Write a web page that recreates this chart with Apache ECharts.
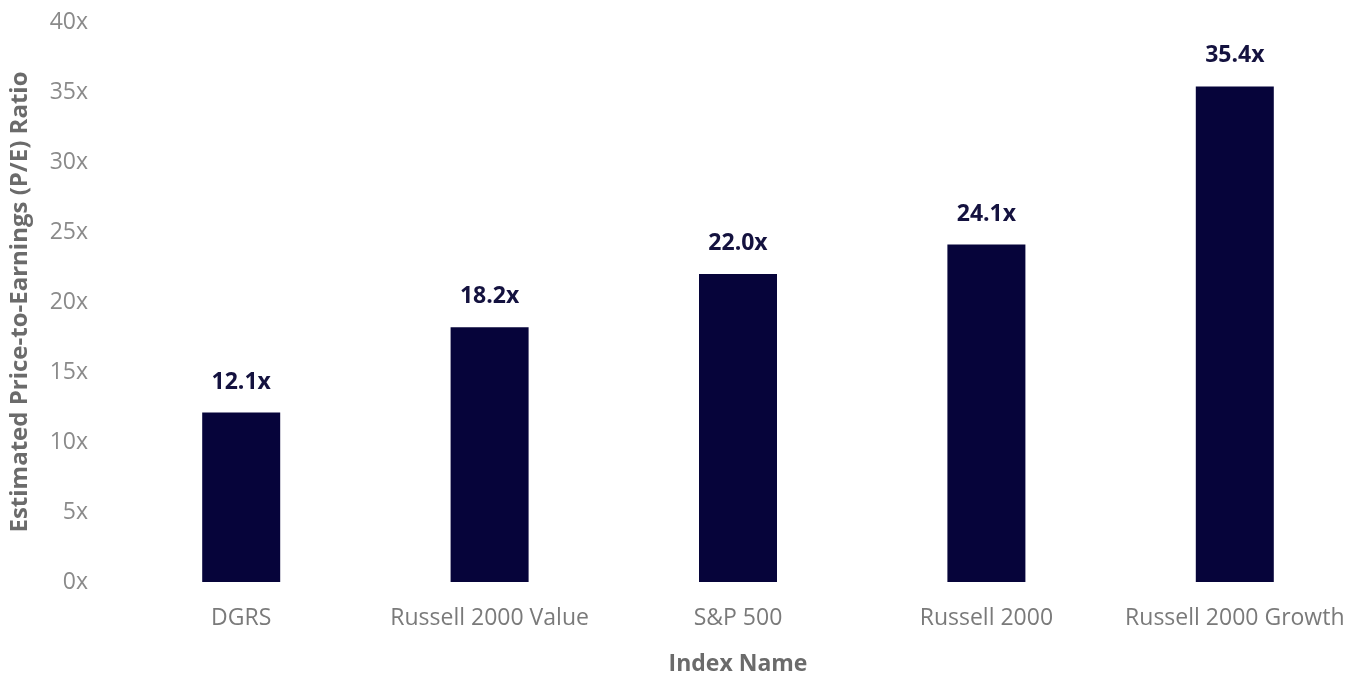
<!DOCTYPE html>
<html>
<head>
<meta charset="utf-8">
<script src="https://cdn.jsdelivr.net/npm/echarts@6/dist/echarts.min.js"></script>
<style>html,body{margin:0;padding:0;background:#fff}#c{width:1367px;height:677px}</style>
</head>
<body>
<div id="c"></div>
<script>
const categories = ['DGRS', 'Russell 2000 Value', 'S&P 500', 'Russell 2000', 'Russell 2000 Growth'];
const peValues = [12.1, 18.2, 22.0, 24.1, 35.4];
const yTicks = [0, 5, 10, 15, 20, 25, 30, 35, 40];

const chart = echarts.init(document.getElementById('c'));
const font = 'Open Sans';
chart.setOption({
  animation: false,
  grid: { left: 117, right: 8, top: 22, bottom: 95, outerBoundsMode: 'none', containLabel: false },
  xAxis: {
    type: 'category',
    data: categories,
    name: 'Index Name',
    nameLocation: 'middle',
    nameGap: 71,
    nameTextStyle: { fontFamily: font, fontSize: 23, fontWeight: 'bold', color: '#6b6b6b' },
    axisLine: { show: false },
    axisTick: { show: false },
    axisLabel: { fontFamily: font, fontSize: 23, color: '#7a7a7a', margin: 25, interval: 0, hideOverlap: false }
  },
  yAxis: {
    type: 'value',
    min: 0, max: 40, interval: 5,
    name: 'Estimated Price-to-Earnings (P/E) Ratio',
    nameLocation: 'middle',
    nameGap: 85,
    nameTextStyle: { fontFamily: font, fontSize: 24, fontWeight: 'bold', color: '#6b6b6b' },
    axisLine: { show: false },
    axisTick: { show: false },
    splitLine: { show: false },
    axisLabel: {
      fontFamily: font, fontSize: 23, color: '#8a8a8a', margin: 29,
      formatter: v => yTicks.includes(v) ? v + 'x' : ''
    }
  },
  series: [{
    type: 'bar',
    data: peValues,
    barWidth: 78,
    itemStyle: { color: '#06043a' },
    label: {
      show: true, position: 'top', distance: 19,
      fontFamily: font, fontSize: 23, fontWeight: 'bold', color: '#14123f',
      formatter: p => p.value.toFixed(1) + 'x'
    }
  }]
});
</script>
</body>
</html>
